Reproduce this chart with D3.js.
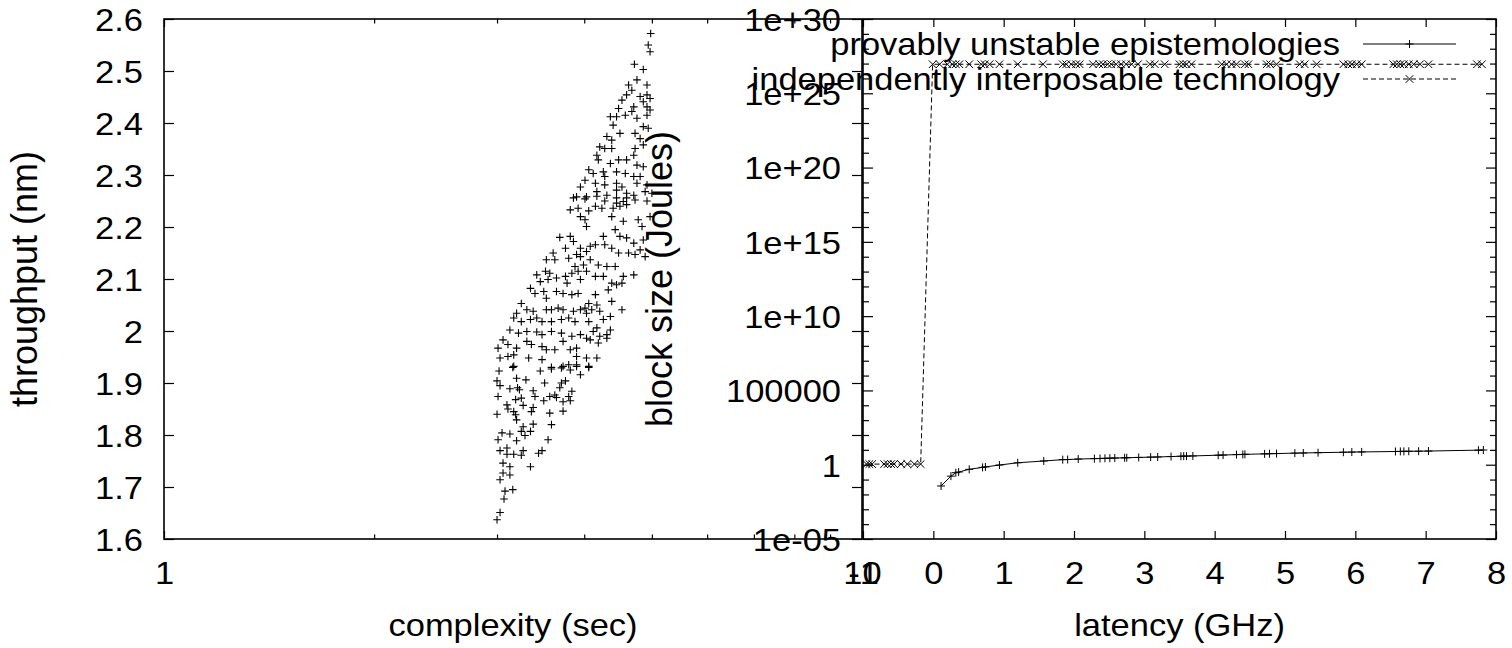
<!DOCTYPE html>
<html>
<head>
<meta charset="utf-8">
<script src="https://cdn.jsdelivr.net/npm/d3@7"></script>
<style>
body { margin: 0; background: #fff; }
svg { display: block; }
text { font-family: 'Liberation Sans', Arial, Helvetica, sans-serif; font-size: 34.5px; fill: #000; }
text.ylabel { font-size: 36px; }
</style>
</head>
<body>
<div class="container"></div>
<script>
/* Params */
const width = 1512;
const height = 648;
// horizontal text in the original comes out a little flattened
const squash = 0.92;
const dash = '5,3';

/* Left panel: complexity (sec) vs throughput (nm) */
const complexity = [
    4.98, 4.94, 4.97, 4.72, 4.86, 4.63, 4.76, 4.92, 4.68, 4.60, 4.81, 4.92, 4.97, 4.53, 4.86, 4.92,
    4.48, 4.71, 4.58, 4.68, 4.76, 4.36, 4.45, 4.92, 4.97, 4.40, 4.86, 4.94, 4.50, 4.73, 4.31, 4.38,
    4.81, 4.86, 4.21, 4.28, 4.38, 4.73, 4.17, 4.19, 4.36, 4.48, 4.60, 4.71, 4.76, 4.86, 4.06, 4.12,
    4.26, 4.28, 4.45, 4.58, 4.71, 4.81, 4.01, 4.15, 4.28, 4.45, 4.53, 4.76, 4.92, 3.95, 3.90, 4.03,
    4.17, 4.31, 4.45, 4.60, 4.71, 4.89, 5.00,
    3.86, 4.01, 4.17, 4.28, 4.45, 4.60, 4.73, 4.92, 4.55, 4.45, 3.82, 3.92, 4.06, 4.15, 4.24, 4.40,
    4.50, 4.60, 3.95, 4.01, 4.03, 4.38, 4.55, 4.78, 4.84, 4.97, 4.43, 4.50, 4.60, 4.71, 4.86, 4.81,
    4.89, 4.73, 4.63, 4.48, 3.69, 3.82, 3.86, 3.76, 3.95, 4.03, 4.08, 4.15, 4.26, 4.28, 4.38, 3.61,
    3.53, 3.63, 3.80, 3.90, 3.95, 4.08, 4.19, 4.31, 4.43, 3.99, 3.88, 4.03, 3.42, 3.52, 3.57, 3.46,
    3.55, 3.65, 3.76, 3.84, 3.92, 3.78, 3.95, 4.15, 4.26, 4.38, 4.45, 4.53, 4.71, 4.55, 4.33, 3.35,
    3.40, 3.50, 3.53, 3.65, 3.73, 3.84, 3.92, 4.15, 4.38, 4.53, 4.06, 4.01, 4.10, 4.17, 3.25, 3.20,
    3.31, 3.38, 3.53, 3.59, 3.67, 3.73, 3.86, 3.95, 4.03, 4.21, 4.36, 3.17, 3.25, 3.35, 3.42, 3.48,
    3.59, 3.71, 3.80, 3.88, 4.06, 4.26, 4.17, 4.36, 3.13, 3.22, 3.31, 3.42, 3.48, 3.59, 3.71, 3.84,
    3.95, 4.03, 4.12, 4.21, 4.31, 3.06, 3.11, 3.20, 3.31, 3.36, 3.48, 3.53, 3.63, 3.73, 3.82, 3.90,
    4.08, 4.19, 4.31, 3.01, 3.03, 3.11, 3.17, 3.33, 3.48, 3.90, 4.03, 4.17, 3.17, 3.59, 3.73, 3.80,
    3.90, 4.06,
    3.02, 3.16, 3.46, 3.59, 3.71, 3.82, 3.90, 3.95, 4.06, 3.00, 3.03, 3.13, 3.21, 3.23, 3.30, 3.20,
    3.51, 3.38, 3.40, 3.25, 3.19, 3.01, 3.71, 3.76, 3.69, 3.63, 3.65, 3.57, 3.50, 3.80, 3.84, 3.82,
    3.73, 3.10, 3.11, 3.17, 3.27, 3.38, 3.36, 3.00, 3.19, 3.20, 3.57, 3.73, 3.59, 3.05, 3.13, 3.27,
    3.38, 3.25, 3.35, 3.29, 3.01, 3.20, 3.55, 3.03, 3.10, 3.10, 3.17, 3.25, 3.27, 3.44, 3.48, 3.06,
    3.13, 3.35, 3.06, 3.13, 3.03, 3.08, 3.16, 3.07, 3.03, 3.00
];
const throughput = [
    2.572, 2.550, 2.537, 2.513, 2.503, 2.473, 2.483, 2.473, 2.463, 2.454, 2.451, 2.454, 2.447, 2.444, 2.441, 2.431,
    2.428, 2.431, 2.415, 2.422, 2.409, 2.412, 2.412, 2.415, 2.425, 2.396, 2.393, 2.390, 2.380, 2.380, 2.374, 2.367,
    2.370, 2.358, 2.354, 2.351, 2.351, 2.351, 2.338, 2.329, 2.322, 2.329, 2.329, 2.338, 2.319, 2.316, 2.310, 2.303,
    2.306, 2.297, 2.306, 2.303, 2.297, 2.297, 2.290, 2.284, 2.281, 2.284, 2.277, 2.284, 2.281, 2.277, 2.258, 2.258,
    2.268, 2.261, 2.271, 2.265, 2.261, 2.268, 2.265,
    2.256, 2.254, 2.259, 2.250, 2.256, 2.256, 2.252, 2.250, 2.249, 2.246, 2.233, 2.236, 2.231, 2.240, 2.236, 2.236,
    2.240, 2.243, 2.220, 2.214, 2.201, 2.220, 2.211, 2.214, 2.201, 2.220, 2.195, 2.182, 2.179, 2.169, 2.175, 2.156,
    2.143, 2.147, 2.150, 2.150, 2.180, 2.182, 2.172, 2.159, 2.159, 2.153, 2.163, 2.166, 2.182, 2.166, 2.159, 2.150,
    2.137, 2.137, 2.140, 2.147, 2.143, 2.137, 2.127, 2.124, 2.124, 2.127, 2.124, 2.115, 2.108, 2.115, 2.111, 2.095,
    2.099, 2.102, 2.105, 2.111, 2.115, 2.092, 2.099, 2.105, 2.105, 2.092, 2.089, 2.092, 2.108, 2.105, 2.079, 2.082,
    2.072, 2.076, 2.063, 2.076, 2.072, 2.070, 2.072, 2.070, 2.057, 2.041, 2.053, 2.044, 2.041, 2.050, 2.053, 2.034,
    2.041, 2.038, 2.041, 2.041, 2.044, 2.041, 2.038, 2.041, 2.034, 2.038, 2.028, 2.025, 2.018, 2.022, 2.025, 2.018,
    2.018, 2.022, 2.025, 2.018, 2.018, 2.022, 2.006, 2.002, 2.002, 1.996, 1.999, 1.998, 1.993, 1.999, 1.996, 1.990,
    1.993, 1.986, 1.999, 1.990, 1.993, 1.983, 1.974, 1.967, 1.980, 1.974, 1.970, 1.964, 1.964, 1.980, 1.964, 1.967,
    1.983, 1.977, 1.986, 1.967, 1.948, 1.951, 1.954, 1.948, 1.945, 1.951, 1.948, 1.948, 1.932, 1.930, 1.932, 1.935,
    1.935, 1.932,
    1.923, 1.930, 1.923, 1.927, 1.929, 1.925, 1.932, 1.916, 1.930, 1.904, 1.895, 1.889, 1.891, 1.887, 1.906, 1.909,
    1.900, 1.885, 1.874, 1.871, 1.868, 1.874, 1.900, 1.904, 1.891, 1.877, 1.872, 1.874, 1.866, 1.874, 1.884, 1.866,
    1.864, 1.858, 1.850, 1.845, 1.857, 1.853, 1.845, 1.840, 1.839, 1.829, 1.842, 1.846, 1.820, 1.804, 1.802, 1.816,
    1.821, 1.807, 1.807, 1.799, 1.791, 1.789, 1.791, 1.770, 1.775, 1.763, 1.763, 1.761, 1.770, 1.765, 1.770, 1.746,
    1.739, 1.739, 1.727, 1.723, 1.714, 1.692, 1.695, 1.677, 1.651, 1.637
];

/* Right panel: latency (GHz) vs block size (Joules) */
const seriesNames = ['provably unstable epistemologies', 'independently interposable technology'];
const latencyUnstable = [
    0.11, 0.25, 0.32, 0.36, 0.51, 0.70, 0.74, 0.94, 1.20, 1.57,
    1.84, 1.91, 2.06, 2.29, 2.37, 2.44, 2.51, 2.58, 2.72, 2.75,
    2.92, 3.09, 3.19, 3.38, 3.52, 3.56, 3.60, 3.69, 4.05, 4.12,
    4.31, 4.40, 4.43, 4.71, 4.78, 4.88, 5.14, 5.26, 5.47, 5.83,
    5.95, 6.09, 6.57, 6.64, 6.69, 6.76, 6.90, 7.04, 7.75, 7.82
];
const blockUnstable = [
    0.037, 0.17, 0.29, 0.32, 0.49, 0.66, 0.71, 0.95, 1.35, 1.78,
    2.19, 2.24, 2.40, 2.57, 2.63, 2.69, 2.75, 2.82, 2.92, 2.95,
    3.09, 3.24, 3.31, 3.55, 3.72, 3.76, 3.80, 3.89, 4.37, 4.47,
    4.79, 4.90, 5.01, 5.37, 5.50, 5.62, 6.03, 6.17, 6.46, 6.92,
    7.08, 7.24, 7.76, 7.85, 7.94, 8.04, 8.13, 8.32, 9.55, 9.77
];
const latencyInterposable = [
    -0.95, -0.91, -0.87, -0.70, -0.65, -0.60, -0.56, -0.46, -0.37, -0.27, -0.18,
    -0.01, 0.09, 0.20, 0.27, 0.32, 0.37, 0.51, 0.68, 0.73, 0.80,
    0.94, 1.20, 1.56, 1.84, 1.89, 1.96, 2.03, 2.08, 2.27, 2.36,
    2.41, 2.48, 2.53, 2.60, 2.67, 2.74, 2.82, 2.91, 3.08, 3.15,
    3.29, 3.50, 3.55, 3.60, 3.67, 4.10, 4.17, 4.24, 4.31, 4.43,
    4.48, 4.74, 4.79, 4.88, 5.21, 5.28, 5.45, 5.83, 5.90, 5.95,
    6.02, 6.09, 6.54, 6.59, 6.64, 6.69, 6.76, 6.83, 6.92, 7.04,
    7.73, 7.80
];
const blockInterposable = [
    1.1, 1.1, 1.1, 1.1, 1.1, 1.1, 1.1, 1.1, 1.1, 1.1, 1.1,
    9e26, 9e26, 9e26, 9e26, 9e26, 9e26, 9e26, 9e26, 9e26, 9e26,
    9e26, 9e26, 9e26, 9e26, 9e26, 9e26, 9e26, 9e26, 9e26, 9e26,
    9e26, 9e26, 9e26, 9e26, 9e26, 9e26, 9e26, 9e26, 9e26, 9e26,
    9e26, 9e26, 9e26, 9e26, 9e26, 9e26, 9e26, 9e26, 9e26, 9e26,
    9e26, 9e26, 9e26, 9e26, 9e26, 9e26, 9e26, 9e26, 9e26, 9e26,
    9e26, 9e26, 9e26, 9e26, 9e26, 9e26, 9e26, 9e26, 9e26, 9e26,
    9e26, 9e26
];

/* Ticks */
const leftYTicks = [1.6, 1.7, 1.8, 1.9, 2, 2.1, 2.2, 2.3, 2.4, 2.5, 2.6];
const leftXTicks = [1, 10];
const leftXMinor = [2, 3, 4, 5, 6, 7, 8, 9];
const rightXTicks = [-1, 0, 1, 2, 3, 4, 5, 6, 7, 8];
const rightYTicks = [1e-5, 1, 1e5, 1e10, 1e15, 1e20, 1e25, 1e30];
const rightYLabels = ['1e-05', '1', '100000', '1e+10', '1e+15', '1e+20', '1e+25', '1e+30'];

/* Layout */
const plotTop = 19, plotBottom = 539;
const leftPanel = { x0: 164, x1: 862 };
const rightPanel = { x0: 863, x1: 1496 };

/* Helpers */
const plusPath = s => `M${-s},0h${2 * s}M0,${-s}v${2 * s}`;
const crossPath = s => `M${-s},${-s}L${s},${s}M${-s},${s}L${s},${-s}`;

function flatText(g, x, y, str, anchor) {
    return g.append('text')
        .attr('transform', `translate(${x},${y}) scale(1,${squash})`)
        .attr('text-anchor', anchor)
        .text(str);
}
function cleanAxis(g, labelX, labelY) {
    g.attr('font-size', null).attr('font-family', null);
    g.select('.domain').remove();
    g.selectAll('.tick line').attr('stroke-width', 1.2);
    g.selectAll('.tick text')
        .attr('x', labelX)
        .attr('dy', null)
        .attr('y', labelY / squash)
        .attr('transform', `scale(1,${squash})`);
}

function draw() {
    const svg = d3.select('.container')
        .append('svg')
        .attr('width', width)
        .attr('height', height)
        .style('background', '#fff');

    // Scales
    const xL = d3.scaleLog().domain([1, 10]).range([leftPanel.x0, leftPanel.x1]);
    const yL = d3.scaleLinear().domain([1.6, 2.6]).range([plotBottom, plotTop]);
    const xR = d3.scaleLinear().domain([-1, 8]).range([rightPanel.x0, rightPanel.x1]);
    const yR = d3.scaleLog().domain([1e-5, 1e30]).range([plotBottom, plotTop]);
    const rightYMinor = d3.range(-5, 31).filter(e => e % 5 !== 0).map(e => Math.pow(10, e));

    /* Left panel axes */
    svg.append('g').attr('transform', `translate(${leftPanel.x0},0)`)
        .call(d3.axisLeft(yL).tickValues(leftYTicks).tickSize(-10).tickFormat(d => String(d)))
        .call(g => cleanAxis(g, -21, 11.3));
    svg.append('g').attr('transform', `translate(${leftPanel.x1},0)`)
        .call(d3.axisRight(yL).tickValues(leftYTicks).tickSize(-10).tickFormat(''))
        .call(g => cleanAxis(g, 0, 0));
    svg.append('g').attr('transform', `translate(0,${plotBottom})`)
        .call(d3.axisBottom(xL).tickValues(leftXTicks).tickSize(-8).tickFormat(d => String(d)))
        .call(g => cleanAxis(g, 0, 45));
    svg.append('g').attr('transform', `translate(0,${plotBottom})`)
        .call(d3.axisBottom(xL).tickValues(leftXMinor).tickSize(-4.5).tickFormat(''))
        .call(g => cleanAxis(g, 0, 0));
    svg.append('g').attr('transform', `translate(0,${plotTop})`)
        .call(d3.axisTop(xL).tickValues(leftXTicks).tickSize(-8).tickFormat(''))
        .call(g => cleanAxis(g, 0, 0));
    svg.append('g').attr('transform', `translate(0,${plotTop})`)
        .call(d3.axisTop(xL).tickValues(leftXMinor).tickSize(-4.5).tickFormat(''))
        .call(g => cleanAxis(g, 0, 0));

    /* Right panel axes */
    svg.append('g').attr('transform', `translate(${rightPanel.x0},0)`)
        .call(d3.axisLeft(yR).tickValues(rightYTicks).tickSize(-10).tickFormat((d, i) => rightYLabels[i]))
        .call(g => cleanAxis(g, -22, 11.3));
    svg.append('g').attr('transform', `translate(${rightPanel.x0},0)`)
        .call(d3.axisLeft(yR).tickValues(rightYMinor).tickSize(-6).tickFormat(''))
        .call(g => cleanAxis(g, 0, 0));
    svg.append('g').attr('transform', `translate(${rightPanel.x1},0)`)
        .call(d3.axisRight(yR).tickValues(rightYTicks).tickSize(-10).tickFormat(''))
        .call(g => cleanAxis(g, 0, 0));
    svg.append('g').attr('transform', `translate(${rightPanel.x1},0)`)
        .call(d3.axisRight(yR).tickValues(rightYMinor).tickSize(-6).tickFormat(''))
        .call(g => cleanAxis(g, 0, 0));
    svg.append('g').attr('transform', `translate(0,${plotBottom})`)
        .call(d3.axisBottom(xR).tickValues(rightXTicks).tickSize(-8).tickFormat(d => String(d)))
        .call(g => cleanAxis(g, 0, 45));
    svg.append('g').attr('transform', `translate(0,${plotTop})`)
        .call(d3.axisTop(xR).tickValues(rightXTicks).tickSize(-8).tickFormat(''))
        .call(g => cleanAxis(g, 0, 0));

    /* Frames */
    [leftPanel, rightPanel].forEach(p => {
        svg.append('rect')
            .attr('x', p.x0).attr('y', plotTop)
            .attr('width', p.x1 - p.x0).attr('height', plotBottom - plotTop)
            .attr('fill', 'none').attr('stroke', '#000').attr('stroke-width', 1.6);
    });

    /* Left scatter */
    const scatter = complexity.map((c, i) => ({ x: c, y: throughput[i] }));
    svg.append('g')
        .selectAll('path')
        .data(scatter)
        .join('path')
        .attr('transform', d => `translate(${xL(d.x)},${yL(d.y)})`)
        .attr('d', plusPath(3.8))
        .attr('stroke', '#000')
        .attr('stroke-width', 1.1)
        .attr('fill', 'none');

    /* Right lines */
    const unstable = latencyUnstable.map((x, i) => ({ x, y: blockUnstable[i] }));
    const interposable = latencyInterposable.map((x, i) => ({ x, y: blockInterposable[i] }));
    const line = d3.line().x(d => xR(d.x)).y(d => yR(d.y));

    svg.append('path')
        .datum(interposable)
        .attr('d', line)
        .attr('fill', 'none').attr('stroke', '#000').attr('stroke-width', 1)
        .attr('stroke-dasharray', dash);
    svg.append('g')
        .selectAll('path')
        .data(interposable)
        .join('path')
        .attr('transform', d => `translate(${xR(d.x)},${yR(d.y)})`)
        .attr('d', crossPath(3.8))
        .attr('stroke', '#000').attr('stroke-width', 1);

    svg.append('path')
        .datum(unstable)
        .attr('d', line)
        .attr('fill', 'none').attr('stroke', '#000').attr('stroke-width', 1);
    svg.append('g')
        .selectAll('path')
        .data(unstable)
        .join('path')
        .attr('transform', d => `translate(${xR(d.x)},${yR(d.y)})`)
        .attr('d', plusPath(4))
        .attr('stroke', '#000').attr('stroke-width', 1);

    /* Axis titles */
    flatText(svg, (leftPanel.x0 + leftPanel.x1) / 2, 636, 'complexity (sec)', 'middle');
    flatText(svg, (rightPanel.x0 + rightPanel.x1) / 2, 636, 'latency (GHz)', 'middle');
    svg.append('text')
        .attr('class', 'ylabel')
        .attr('transform', `translate(37,${(plotTop + plotBottom) / 2}) rotate(-90)`)
        .attr('text-anchor', 'middle')
        .text('throughput (nm)');
    svg.append('text')
        .attr('class', 'ylabel')
        .attr('transform', `translate(672,${(plotTop + plotBottom) / 2}) rotate(-90)`)
        .attr('text-anchor', 'middle')
        .text('block size (Joules)');

    /* Legend */
    const legend = svg.append('g');
    seriesNames.forEach((name, i) => {
        const cy = 44 + i * 35;
        flatText(legend, 1340, cy + 11, name, 'end');
        legend.append('line')
            .attr('x1', 1363).attr('x2', 1456).attr('y1', cy).attr('y2', cy)
            .attr('stroke', '#000').attr('stroke-width', 1)
            .attr('stroke-dasharray', i === 1 ? dash : null);
        legend.append('path')
            .attr('transform', `translate(1409.5,${cy})`)
            .attr('d', i === 0 ? plusPath(4) : crossPath(3.8))
            .attr('stroke', '#000').attr('stroke-width', 1);
    });
}

draw();
</script>
</body>
</html>
